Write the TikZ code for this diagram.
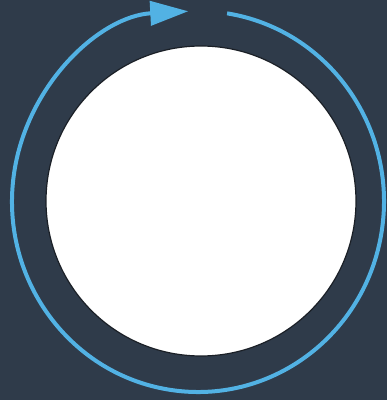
\documentclass[tikz,border=0pt]{standalone}
\usepackage{tikz}
\usetikzlibrary{arrows.meta}
\definecolor{slatebg}{HTML}{2F3B4A}
\definecolor{ringblue}{HTML}{52B2E4}
\definecolor{rimdark}{HTML}{1A1F26}

\begin{document}
\begin{tikzpicture}[
    x=1pt, y=1pt,
    ring/.style={ringblue, line width=4pt, -{Triangle[length=38pt, width=24pt]}},
    disc/.style={fill=white, draw=rimdark, line width=1.2pt}
]
    % background
    \fill[slatebg] (0,0) rectangle (387,400);
    \useasboundingbox (0,0) rectangle (387,400);

    % white disc
    \coordinate (mid) at (201,199);
    \draw[disc] (mid) circle[radius=155];

    % blue ring, clockwise, open at the top
    \coordinate (ringc) at (198,198.5);
    \draw[ring] ([shift={(81:186 and 190.5)}]ringc)
        arc[start angle=81, end angle=-267, x radius=186, y radius=190.5];
\end{tikzpicture}
\end{document}
